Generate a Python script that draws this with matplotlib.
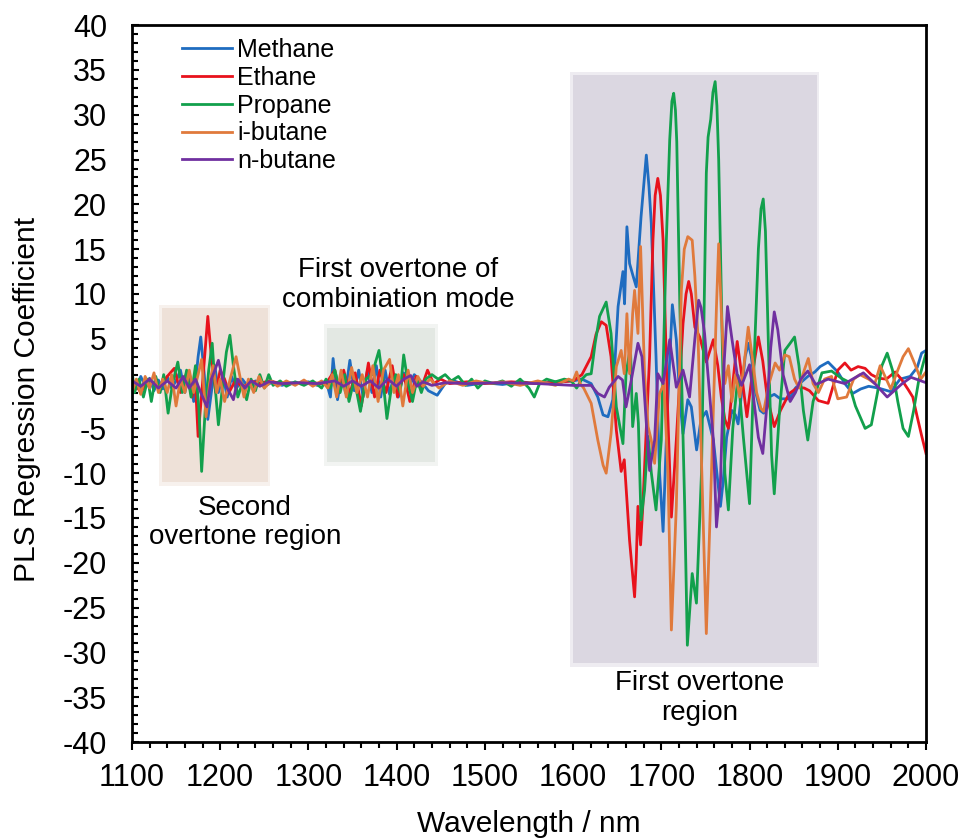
import matplotlib
matplotlib.use("Agg")
import matplotlib.pyplot as plt
from matplotlib.patches import Rectangle
from matplotlib.ticker import MultipleLocator

plt.rcParams['font.family'] = ['Liberation Sans', 'DejaVu Sans']
plt.rcParams['axes.unicode_minus'] = False

# PLS regression coefficients (wavelength nm, coefficient)
methane_x = [1100, 1105, 1110, 1115, 1120, 1125, 1130, 1135, 1140, 1145, 1150, 1155, 1160, 1165, 1170, 1175, 1178,
             1182, 1186, 1190, 1194, 1198, 1203, 1208, 1213, 1218, 1225, 1232, 1240, 1250, 1260, 1270, 1280, 1290,
             1300, 1310, 1320, 1325, 1328, 1333, 1338, 1342, 1347, 1352, 1357, 1362, 1367, 1372, 1377, 1382, 1387,
             1392, 1397, 1402, 1408, 1414, 1420, 1428, 1436, 1446, 1455, 1465, 1480, 1500, 1520, 1540, 1560, 1580,
             1600, 1610, 1620.5, 1628, 1634, 1639.5, 1645, 1651, 1656.5, 1658.3, 1661, 1664, 1668, 1671.6, 1677,
             1680, 1683, 1686, 1688.6, 1694, 1698, 1702, 1707, 1712.5, 1717, 1721, 1724.6, 1730, 1734, 1740, 1745,
             1751, 1759, 1767, 1770, 1774, 1780, 1784, 1787, 1791, 1795, 1798.5, 1802, 1807, 1812, 1816, 1822, 1828,
             1835, 1845, 1852, 1859, 1866, 1874, 1880, 1889, 1900, 1908, 1917, 1926, 1935, 1946, 1960, 1970.6, 1982,
             1990, 1995, 2000]
methane_y = [0.5, -0.5, 0.8, -0.3, 0.6, -0.8, 0.4, -0.6, 0.8, -0.5, 0.3, 1.5, -1.0, 1.2, -2.0, 3.0, 5.2,
             1.0, -4.0, -1.0, 2.0, -1.0, 1.0, -1.5, 0.8, -0.6, 0.5, -0.4, 0.3, -0.3, 0.2, -0.2, 0.1, 0.0,
             0.2, -0.2, 0.3, -1.5, 2.8, -1.8, 1.0, -1.0, 2.6, -0.8, 1.5, -1.5, 1.5, -1.0, 2.0, -1.5, 1.5,
             -1.2, 1.0, -1.5, 1.2, -0.5, 1.0, 0.2, -0.8, -1.3, 0.0, 0.3, -0.2, 0.1, -0.1, 0.2, 0.0, 0.2,
             0.3, 0.5, 0.0, -1.5, -3.5, -3.7, -1.8, 8.6, 12.5, 8.9, 17.5, 13.4, 12.0, 10.8, 18.6,
             22.0, 25.5, 22.0, 17.9, 3.0, -10.0, -16.5, -2.6, 8.8, 4.9, -1.8, -5.6, -1.8, -2.6, -7.4, -4.0,
             -3.1, -6.3, -13.7, -11.0, -6.0, -3.0, -3.5, -4.5, -1.0, 3.0, 4.5, 3.0, -1.0, -3.0, -3.3, -1.5, -1.2,
             -1.7, -1.7, -0.5, 0.2, 0.8, 1.3, 1.9, 2.4, 1.3, 0.0, -1.1, -0.6, -0.3, -0.5, -0.9, 0.5, 0.8,
             1.8, 3.4, 3.7]

ethane_x = [1100, 1110, 1120, 1130, 1140, 1148, 1155, 1162, 1168, 1172, 1175, 1180, 1186, 1190, 1195, 1200, 1205,
            1210, 1218, 1225, 1235, 1245, 1255, 1270, 1300, 1320, 1330, 1335, 1340, 1347, 1353, 1360, 1368, 1375,
            1381, 1388, 1395, 1401, 1408, 1415, 1422, 1428, 1435, 1442, 1450, 1460, 1480, 1500, 1530, 1560, 1600,
            1610, 1620.5, 1626, 1632, 1637.5, 1643, 1649, 1654.5, 1658, 1664, 1669.7, 1671.5, 1673.5, 1676.5, 1679,
            1683, 1686.7, 1690.5, 1693, 1696, 1699, 1702, 1707, 1711.4, 1717, 1724.6, 1728, 1731, 1734, 1738,
            1743.5, 1751, 1759, 1764, 1768, 1772, 1776, 1781, 1786, 1791, 1797, 1803, 1810, 1815, 1820, 1828, 1835,
            1845, 1855, 1862, 1868, 1878, 1889, 1900, 1908, 1915, 1923, 1931, 1938, 1946, 1955, 1965, 1972, 1980,
            1985, 1990, 1995, 2000]
ethane_y = [0.5, -1.0, 0.5, -0.5, 0.8, 1.7, -1.0, 1.2, -1.5, 0.0, -5.9, 0.0, 7.5, 3.0, -1.0, 1.5, 0.5,
            -1.0, 0.5, -0.5, 0.3, 0.0, 0.3, 0.0, 0.1, 0.0, 1.5, -1.0, 1.5, -1.2, 1.2, -2.5, 2.3, -1.5,
            1.5, -1.0, 2.0, -1.5, 1.0, -2.0, 0.8, -0.5, 1.5, 0.0, 0.5, 0.0, 0.2, 0.0, 0.2, 0.0, 0.3,
            1.0, 3.0, 5.5, 6.9, 6.5, 3.0, -5.2, -9.8, -8.5, -17.5, -23.8, -20.0, -13.7, -18.0, -13.7,
            -5.0, 3.0, 16.0, 21.0, 22.9, 21.0, 16.0, -2.6, -14.9, -6.3, 6.7, 10.0, 11.4, 10.0, 6.3,
            5.2, 2.4, 4.9, 2.0, -1.5, -4.0, -5.0, 0.0, 4.7, 1.0, -3.7, 1.0, 5.2, 2.5, -1.5, -4.8, -3.0,
            -1.1, -0.4, -0.5, -0.8, -1.9, -2.2, 1.5, 2.3, 1.5, 1.9, 1.7, 1.0, 0.6, 0.5, 1.3, 0.5, -0.7,
            -1.5, -3.7, -5.8, -7.8]

propane_x = [1100, 1103, 1108, 1113, 1118, 1122, 1127, 1132, 1136, 1141, 1146, 1152, 1157, 1162, 1167, 1172, 1176,
             1179, 1183, 1187, 1191, 1194, 1198, 1203, 1207, 1211, 1215, 1220, 1225, 1230, 1235, 1240, 1245, 1250,
             1255, 1260, 1268, 1275, 1285, 1295, 1305, 1315, 1320, 1325, 1330, 1336, 1341, 1346, 1352, 1359, 1365,
             1372, 1380, 1385, 1389, 1394, 1399, 1404, 1408, 1413, 1418, 1423, 1428, 1433, 1440, 1447, 1455, 1462,
             1470, 1478, 1485, 1492, 1500, 1510, 1520, 1530, 1540, 1550, 1556, 1562, 1570, 1580, 1590, 1598, 1604,
             1610, 1615, 1620.5, 1625, 1630, 1637.5, 1643, 1649, 1656.5, 1660, 1665, 1667.5, 1671.6, 1674, 1677,
             1681, 1685, 1688.6, 1694, 1700, 1705.7, 1709.5, 1712, 1714, 1716, 1717.5, 1721, 1726.5, 1729.5, 1735,
             1739.8, 1745.5, 1751, 1753, 1756, 1758.5, 1761, 1763, 1765, 1769, 1772, 1776, 1781, 1787, 1793, 1800,
             1805, 1810, 1813, 1815.5, 1818, 1822, 1825, 1828, 1834, 1840, 1846, 1851, 1856, 1861, 1866, 1872,
             1882, 1893, 1904, 1912, 1920, 1931, 1938, 1945, 1950, 1956, 1962, 1968, 1974, 1980, 1986, 1992, 2000]
propane_y = [1.5, -1.0, 0.5, -1.5, 0.5, -2.0, 0.8, -1.0, 1.0, -3.3, 0.0, 2.4, -1.0, 1.5, -1.5, 2.0, -3.0,
             -9.8, -3.0, 1.5, 4.5, 0.0, -4.6, 0.0, 3.5, 5.4, 2.0, -1.5, 0.0, -1.8, 0.5, -0.8, 1.0, -0.5,
             1.0, -0.2, 0.3, -0.3, 0.2, -0.2, 0.3, -0.5, 0.5, -0.5, 1.5, -1.0, 1.0, -2.0, 0.5, -3.1, 0.5,
             1.0, 3.7, 0.0, -3.9, -0.5, 1.0, -1.0, 3.2, 0.0, -2.0, 0.5, -1.0, 0.5, 1.0, 0.5, 1.0, 0.3,
             0.8, -0.2, 0.5, -0.5, 0.3, 0.0, 0.3, -0.3, 0.5, -0.5, -1.5, 0.0, 0.5, 0.2, 0.5, 0.3, -0.5,
             0.5, 1.0, 1.1, 4.5, 7.5, 9.1, 5.6, -2.6, -6.7, 1.1, 4.1, -4.8, -1.1, -4.4, -15.2,
             -11.9, -5.9, -9.9, -14.1, -6.3, 16.0, 27.2, 31.5, 32.4, 30.5, 27.0, 8.6, -13.7, -29.2, -21.2,
             -24.5, -10.0, 23.5, 27.5, 29.5, 32.5, 33.7, 31.0, 25.0, 5.0, -10.0, -14.1, -5.0, 0.9, -6.0, -13.4,
             2.0, 15.0, 19.5, 20.6, 17.0, 2.0, -8.0, -12.3, -3.0, 3.7, 4.5, 5.2, 2.0, -3.0, -6.3, -2.0,
             1.2, 1.4, 0.6, 0.2, -2.5, -5.0, -4.6, -1.0, 2.0, 3.4, 1.5, -2.0, -5.0, -5.9, -3.0, 0.5, 3.4]

ibutane_x = [1100, 1105, 1110, 1115, 1120, 1125, 1130, 1135, 1140, 1145, 1150, 1155, 1160, 1165, 1170, 1175, 1179,
             1184, 1188, 1192, 1196, 1200, 1205, 1210, 1214, 1218, 1222, 1227, 1232, 1238, 1244, 1250, 1258, 1265,
             1275, 1285, 1295, 1305, 1315, 1322, 1327, 1332, 1337, 1343, 1349, 1355, 1361, 1367, 1373, 1379, 1385,
             1392, 1397, 1402, 1407, 1413, 1418, 1424, 1430, 1438, 1448, 1460, 1475, 1490, 1505, 1520, 1540, 1560,
             1580, 1595, 1600, 1604, 1608, 1612, 1620.5, 1628, 1634, 1637.5, 1643, 1649, 1654.5, 1658, 1661, 1664,
             1667.5, 1669.7, 1673.5, 1676.5, 1681, 1685, 1688.6, 1692.4, 1698, 1703, 1707.5, 1711.4, 1717, 1722.7,
             1726, 1730, 1735, 1738, 1741.7, 1747, 1751, 1756.8, 1762.5, 1765, 1768, 1772, 1776, 1780, 1784, 1789,
             1794, 1798.5, 1803, 1808, 1813, 1816, 1822, 1829, 1834, 1840, 1845, 1851, 1856, 1862, 1866.6, 1872,
             1878, 1885, 1893, 1900, 1910, 1918, 1925, 1935, 1942, 1948, 1955, 1960, 1968, 1974, 1980, 1986, 1994,
             2000]
ibutane_y = [-1.0, 0.5, -1.2, 0.8, -0.5, 1.2, -1.0, 0.5, -1.0, 1.0, -2.5, 0.5, -1.0, 1.5, -1.0, 1.0, 2.7,
             -3.7, 0.0, 2.0, -1.0, 0.5, -2.0, 0.0, 1.5, 3.0, 1.0, -1.5, 0.5, -1.0, 0.8, -0.5, 0.3, -0.3,
             0.3, -0.2, 0.4, -0.3, 0.3, -0.5, 1.0, -1.5, 1.5, -1.5, 1.8, -1.0, 1.0, -1.5, 2.0, -2.0, 1.5,
             2.7, -1.0, 1.0, -2.5, 1.5, -1.0, 0.8, -0.3, 0.5, -0.5, 0.3, -0.2, 0.3, 0.0, 0.2, -0.2, 0.3,
             -0.2, 0.5, 0.3, 1.3, 0.0, -0.5, -2.2, -6.3, -9.1, -10.0, -5.6, 1.9, 3.7, 1.1, 7.8, 1.1,
             7.8, 10.4, 5.6, 15.3, 1.1, -4.8, -6.3, -8.9, -1.1, 0.0, -10.0, -27.5, -13.7, 10.4,
             15.0, 16.4, 16.0, 12.0, 4.9, -13.7, -27.9, -10.0, 8.6, 15.6, 8.0, 0.0, 2.0, -2.0, 1.0, -1.5,
             2.3, 6.3, 3.0, -1.0, -2.8, -3.1, 0.0, 2.3, 1.5, 3.2, 3.0, 0.5, -0.5, 1.5, 2.8, 0.0,
             -1.0, 0.5, 0.8, -1.7, -1.5, 0.5, 1.0, 0.5, 0.0, 2.0, 0.5, -0.6, 1.5, 3.0, 3.9, 2.5, 0.5,
             1.3]

nbutane_x = [1100, 1110, 1120, 1130, 1140, 1150, 1158, 1165, 1172, 1178, 1185, 1190, 1194, 1198, 1203, 1208, 1215,
             1220, 1228, 1235, 1245, 1255, 1270, 1290, 1310, 1330, 1340, 1350, 1360, 1370, 1380, 1390, 1400, 1408,
             1416, 1423, 1430, 1440, 1455, 1480, 1520, 1560, 1600, 1615, 1620.5, 1628, 1635.6, 1641, 1651, 1656,
             1660, 1666, 1673.5, 1678, 1683, 1686.7, 1692.4, 1696, 1702, 1709.5, 1717, 1724.6, 1732, 1738, 1742.3,
             1745, 1749, 1755, 1759, 1762.5, 1767, 1771, 1775, 1780, 1786, 1791, 1800, 1805, 1810, 1815, 1820,
             1824, 1828, 1832, 1838, 1846, 1852, 1858, 1866, 1875, 1889, 1908, 1929, 1942, 1956, 1973, 1983, 2000]
nbutane_y = [0.3, -0.3, 0.5, -0.5, 0.3, -0.5, 0.8, -0.5, 0.5, -1.0, -2.6, 0.5, 1.5, 2.6, 0.5, -0.5, -1.8,
             0.5, -0.5, 0.3, -0.3, 0.2, 0.0, 0.1, 0.0, 0.3, -0.3, 0.3, -0.3, 0.3, -0.5, 0.5, -0.3, 0.5,
             0.9, -0.3, 0.2, -0.2, 0.1, 0.0, 0.1, 0.0, -0.2, -0.2, -0.2, -1.1, -1.5, -0.4, 0.8, 0.4,
             -2.6, 0.4, 4.5, 3.0, -4.4, -9.7, -6.3, 1.1, 0.0, 4.9, -0.4, 1.5, -1.5, 5.0, 9.3,
             8.5, 5.6, -1.5, -6.3, -16.0, -11.0, 2.0, 8.6, 5.0, 1.0, -0.2, 2.1, -2.0, -6.0, -7.8, -2.0,
             4.0, 8.0, 6.0, 1.0, -2.0, -1.0, 0.5, 1.4, -0.1, 0.5, 0.0, 1.2, 0.0, -1.5, 0.0, 0.7, 0.1]

series = [
    ('Methane', methane_x, methane_y, '#1f6cc0'),
    ('Ethane', ethane_x, ethane_y, '#e8121c'),
    ('Propane', propane_x, propane_y, '#12a04c'),
    ('i-butane', ibutane_x, ibutane_y, '#e07a3c'),
    ('n-butane', nbutane_x, nbutane_y, '#7030a0'),
]

# shaded regions: (x0, x1, y0, y1, colour)
regions = [
    (1134, 1254, -11.0, 8.4, '#eee1d8'),
    (1321, 1444, -8.8, 6.2, '#e3e8e3'),
    (1600, 1876, -31.2, 34.4, '#dbd7e1'),
]

fig = plt.figure(figsize=(9.63, 8.39), dpi=100)
ax = fig.add_axes([0.137, 0.1156, 0.8246, 0.8544])

for x0, x1, y0, y1, c in regions:
    # soft edge: a slightly larger, faint rectangle behind the main one
    ax.add_patch(Rectangle((x0 - 3, y0 - 0.4), x1 - x0 + 6, y1 - y0 + 0.8,
                           facecolor=c, edgecolor='none', alpha=0.45, zorder=0))
    ax.add_patch(Rectangle((x0, y0), x1 - x0, y1 - y0, facecolor=c, edgecolor='none', zorder=0))

for name, xs, ys, c in series:
    ax.plot(xs, ys, color=c, lw=2.0, label=name, zorder=2, solid_joinstyle='round')

ax.set_xlim(1100, 2000)
ax.set_ylim(-40, 40)
ax.xaxis.set_major_locator(MultipleLocator(100))
ax.xaxis.set_minor_locator(MultipleLocator(20))
ax.yaxis.set_major_locator(MultipleLocator(5))
ax.yaxis.set_minor_locator(MultipleLocator(1))
ax.tick_params(axis='x', which='major', direction='out', length=6, width=1.5, labelsize=22, pad=9)
ax.tick_params(axis='x', which='minor', direction='out', length=4.5, width=1.5)
ax.tick_params(axis='y', which='major', direction='in', length=5, width=1.5, labelsize=22, pad=18)
ax.tick_params(axis='y', which='minor', direction='in', length=4.5, width=1.5)
for s in ax.spines.values():
    s.set_linewidth(2)

ax.set_xlabel('Wavelength / nm', fontsize=21.5, labelpad=12)
ax.set_ylabel('PLS Regression Coefficient', fontsize=21.5)
ax.yaxis.set_label_coords(-0.115, 0.478)

ax.text(1402, 11.0, 'First overtone of\ncombiniation mode', fontsize=20, ha='center', va='center',
        multialignment='center', linespacing=1.18)
ax.text(1228, -15.5, 'Second\novertone region', fontsize=20, ha='center', va='center',
        multialignment='center', linespacing=1.18)
ax.text(1743, -35.1, 'First overtone\nregion', fontsize=20, ha='center', va='center',
        multialignment='center', linespacing=1.18)

ax.legend(loc='upper left', bbox_to_anchor=(0.063, 0.982), frameon=False, fontsize=18,
          handlelength=2.0, handletextpad=0.2, labelspacing=0.15, borderpad=0, borderaxespad=0)

fig.savefig('out.png', dpi=100)
